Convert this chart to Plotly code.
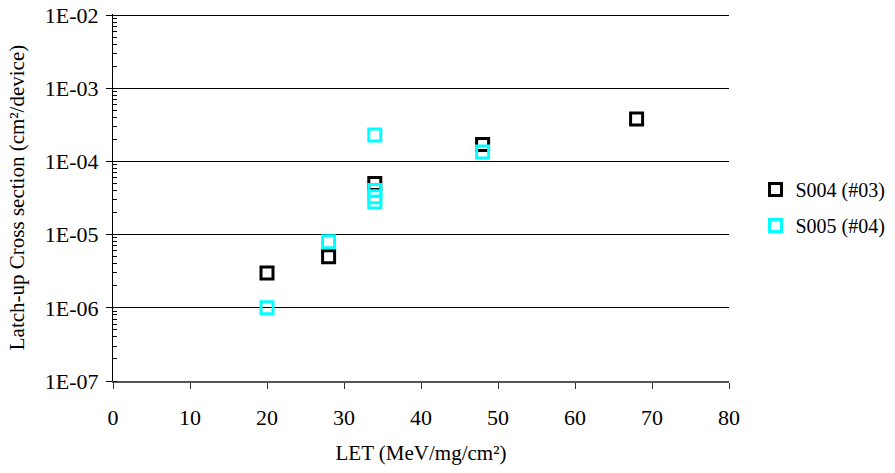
import plotly.graph_objects as go

# Data
let_s004 = [20, 28, 34, 48, 68]
xs_s004 = [3.0e-6, 5.0e-6, 5.0e-5, 1.7e-4, 3.8e-4]

let_s005 = [20, 28, 34, 34, 34, 34, 48]
xs_s005 = [1.0e-6, 8.0e-6, 2.3e-4, 4.0e-5, 3.3e-5, 2.8e-5, 1.35e-4]

y_tickvals = [1e-7, 1e-6, 1e-5, 1e-4, 1e-3, 1e-2]
y_ticktext = ["1E-07", "1E-06", "1E-05", "1E-04", "1E-03", "1E-02"]

FONT = "Liberation Serif"

fig = go.Figure()
fig.add_trace(go.Scatter(
    x=let_s004, y=xs_s004, mode="markers", name="S004 (#03)",
    legendgroup="a",
    marker=dict(symbol="square-open", size=12, color="black",
                line=dict(color="black", width=3)),
))
fig.add_trace(go.Scatter(
    x=let_s005, y=xs_s005, mode="markers", name="S005 (#04)",
    legendgroup="b",
    marker=dict(symbol="square-open", size=12, color="#00FFFF",
                line=dict(color="#00FFFF", width=3)),
))

fig.update_layout(
    width=895, height=473,
    margin=dict(l=113, r=166, t=14, b=92, autoexpand=False),
    paper_bgcolor="white", plot_bgcolor="white",
    font=dict(family=FONT, size=21, color="black"),
    showlegend=True,
    legend=dict(x=1.043, y=0.575, xanchor="left", yanchor="top",
                font=dict(family=FONT, size=20, color="black"),
                traceorder="grouped", tracegroupgap=7,
                bgcolor="rgba(0,0,0,0)", itemwidth=30),
)

fig.update_xaxes(
    range=[0, 80], dtick=10, tick0=0,
    showgrid=False, zeroline=False,
    showline=True, linecolor="#555555", linewidth=1.5,
    ticks="outside", ticklen=6, tickcolor="#333333", tickwidth=1,
    ticklabelstandoff=10,
    tickfont=dict(family=FONT, size=22, color="black"),
    title=dict(text="LET (MeV/mg/cm²)", standoff=16,
               font=dict(family=FONT, size=21, color="black")),
    automargin=False,
)

fig.update_yaxes(
    type="log", range=[-7, -1.985],
    tickvals=y_tickvals, ticktext=y_ticktext,
    ticklabeloverflow="allow",
    showgrid=True, gridcolor="black", gridwidth=1,
    zeroline=False,
    showline=True, linecolor="black", linewidth=1,
    ticks="outside", ticklen=6, tickcolor="black", tickwidth=1,
    ticklabelstandoff=3,
    tickfont=dict(family=FONT, size=22, color="black"),
    minor=dict(ticks="inside", ticklen=4, tickcolor="black", dtick="D1", showgrid=False),
    title=dict(text="Latch-up Cross section (cm²/device)", standoff=14,
               font=dict(family=FONT, size=21, color="black")),
    automargin=False,
)

fig.write_html("out.html", config={"displayModeBar": False},
               post_script="document.body.style.margin='0';")
